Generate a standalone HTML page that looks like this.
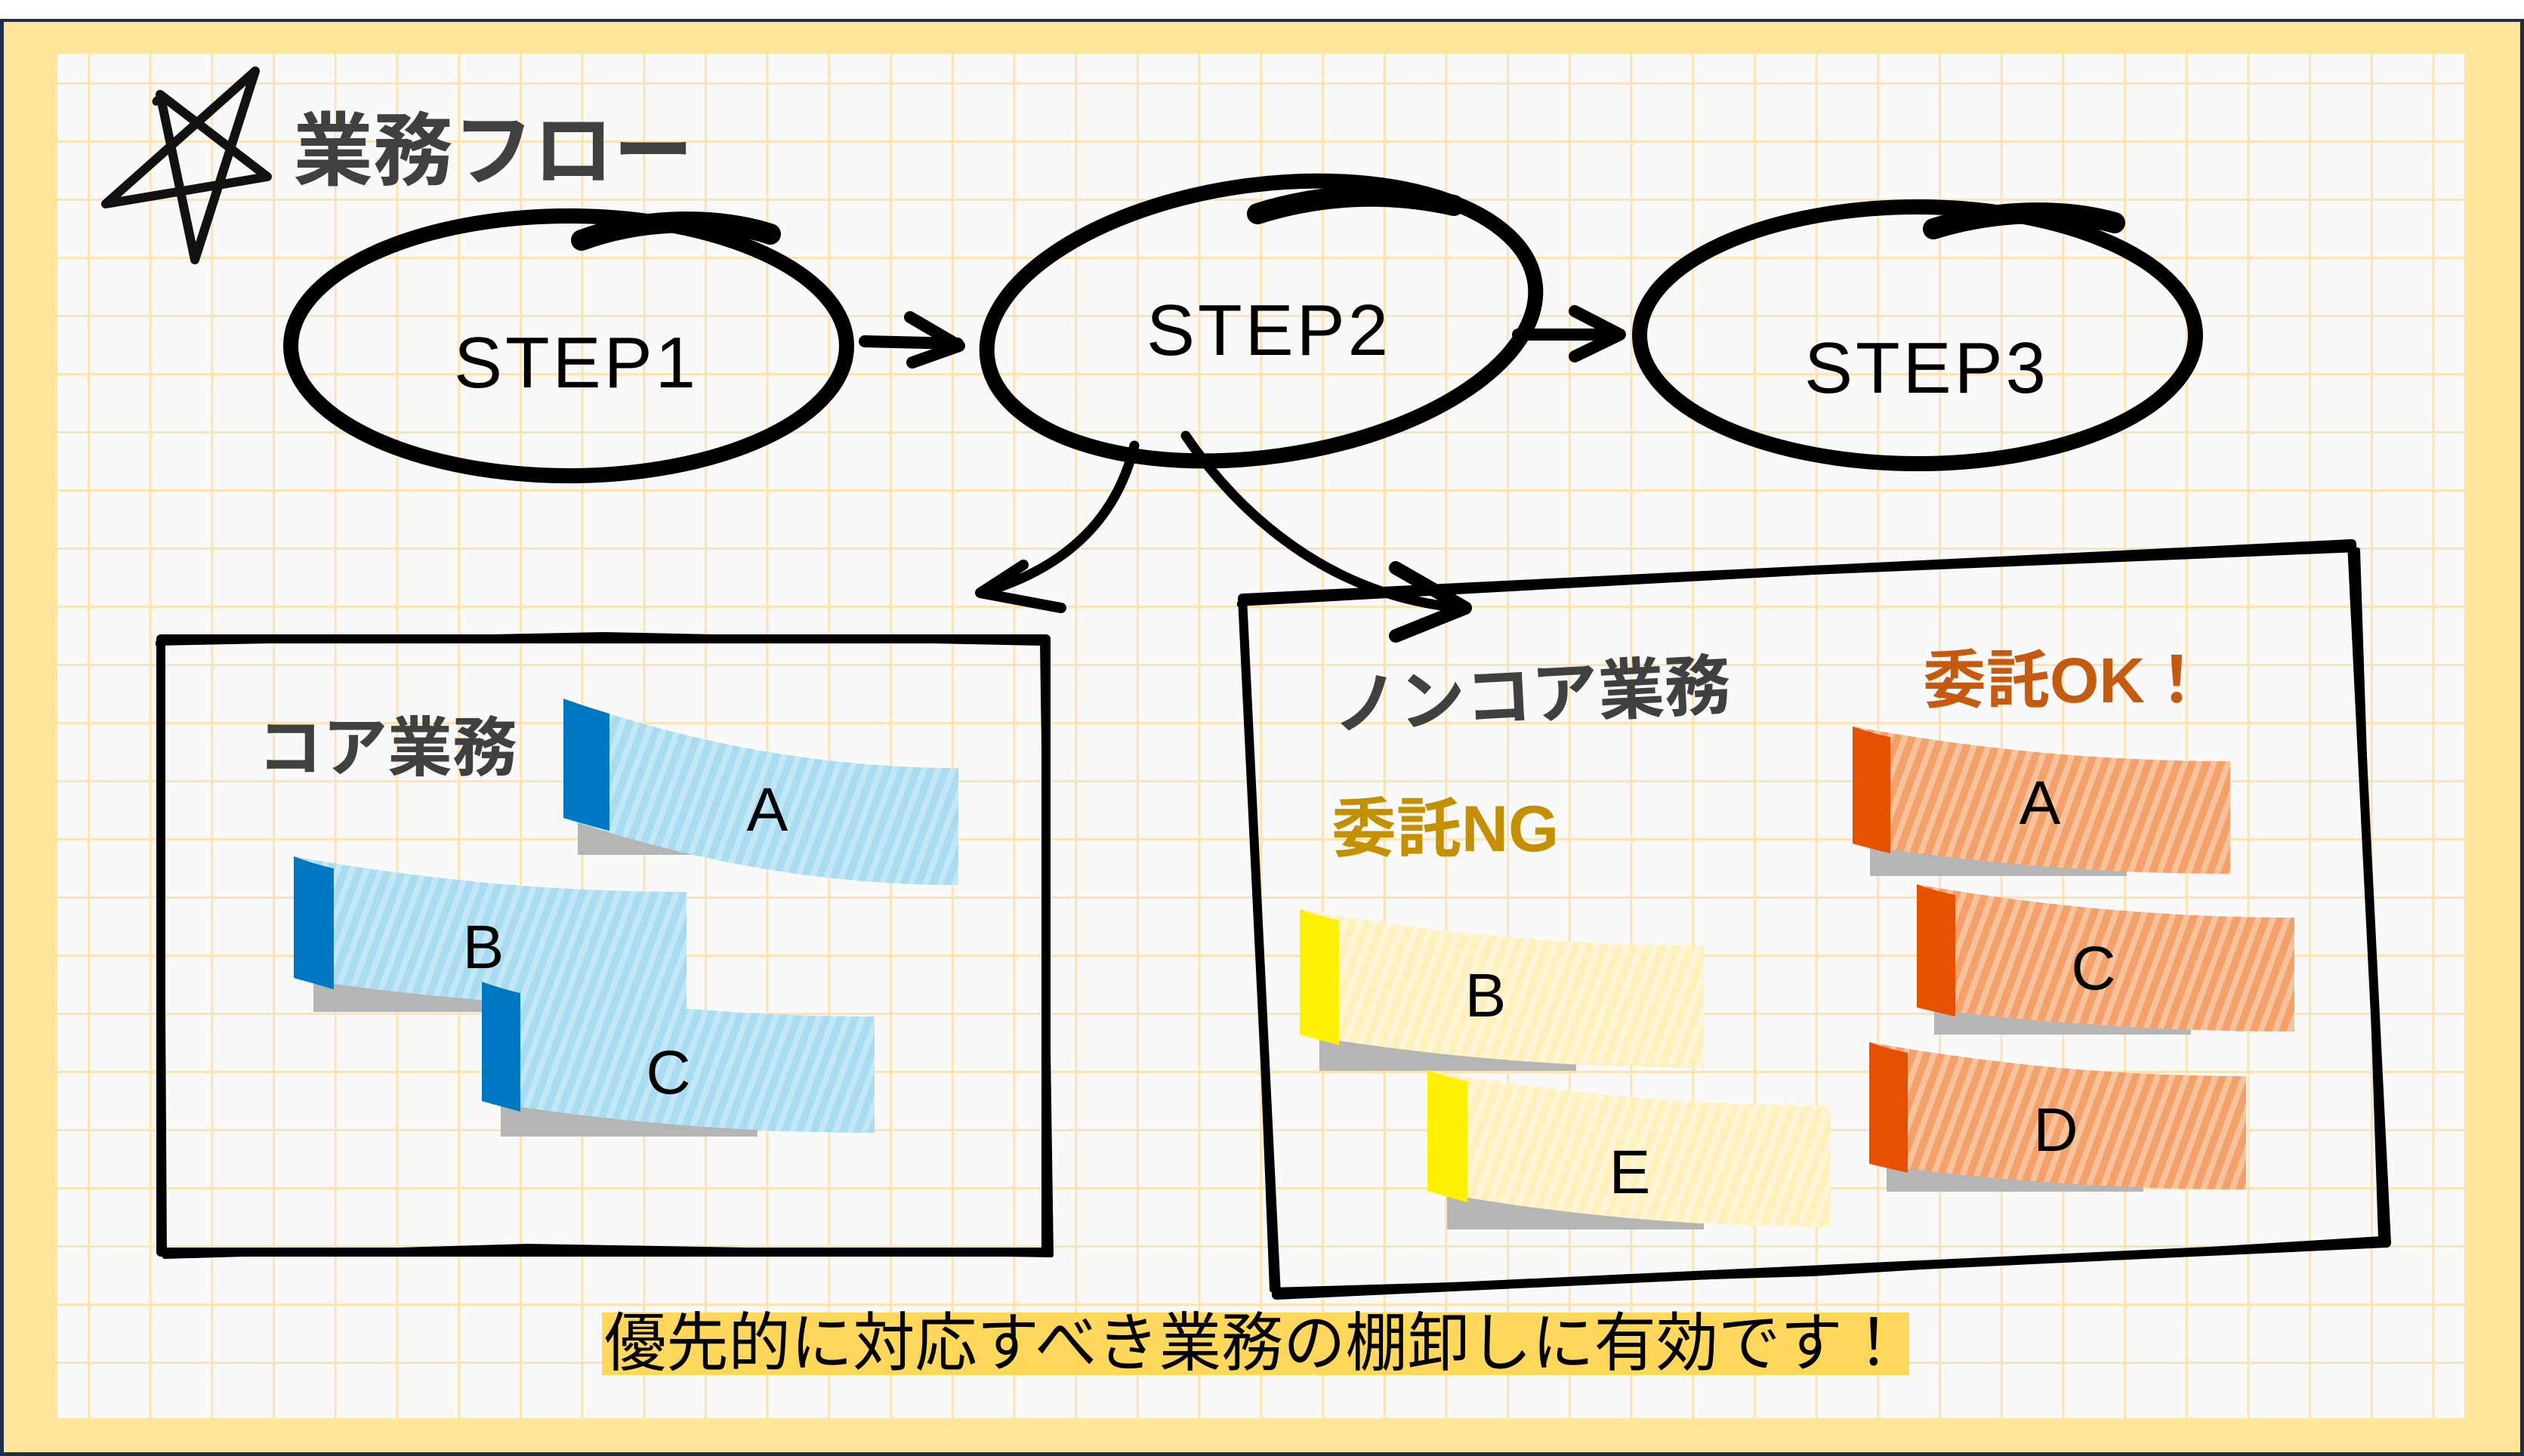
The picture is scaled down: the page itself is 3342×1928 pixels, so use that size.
<!DOCTYPE html>
<html><head><meta charset="utf-8">
<style>
html,body{margin:0;padding:0;background:#fff;}
svg{display:block;}
.t{font-family:"Liberation Sans","Noto Sans CJK JP",sans-serif;}
</style></head>
<body>
<svg width="3342" height="1928" viewBox="0 0 3342 1928" xmlns="http://www.w3.org/2000/svg">
<defs>
  <pattern id="grid" x="116" y="109" width="81.7" height="77" patternUnits="userSpaceOnUse">
    <rect x="0" y="0" width="81.7" height="77" fill="#f9f9f9"/>
    <rect x="-3" y="0" width="6" height="77" fill="#fde3b2"/>
    <rect x="0" y="-3" width="81.7" height="6" fill="#fde3b2"/>
  </pattern>
  <pattern id="sb" width="18" height="18" patternUnits="userSpaceOnUse" patternTransform="rotate(20)">
    <rect width="18" height="18" fill="#a9dcf0"/><rect width="8" height="18" fill="#c2e7f6"/>
  </pattern>
  <pattern id="sy" width="18" height="18" patternUnits="userSpaceOnUse" patternTransform="rotate(20)">
    <rect width="18" height="18" fill="#fff0bd"/><rect width="8" height="18" fill="#fff6d6"/>
  </pattern>
  <pattern id="so" width="18" height="18" patternUnits="userSpaceOnUse" patternTransform="rotate(20)">
    <rect width="18" height="18" fill="#f3a06a"/><rect width="8" height="18" fill="#f8c29a"/>
  </pattern>
</defs>

<rect x="0" y="0" width="3342" height="1928" fill="#fff"/>
<rect x="0" y="25" width="3342" height="1903" fill="#1f2d4a"/>
<rect x="5" y="29" width="3332" height="1894" fill="#ffe599"/>
<rect x="76" y="71" width="3187" height="1807" fill="url(#grid)"/>

<path d="M338,94 L258,344 L212,125 L354,234 L140,270 L338,94" fill="none" stroke="#111" stroke-width="12" stroke-linejoin="round" stroke-linecap="round"/>
<path d="M212,125 C205,150 200,120 222,136" fill="none" stroke="#111" stroke-width="9"/>

<text class="t" x="388" y="237" font-size="106" font-weight="700" fill="#404040">業務フロー</text>

<g fill="none" stroke="#000" stroke-linecap="round">
  <ellipse cx="753" cy="458" rx="368" ry="172" stroke-width="20"/>
  <path d="M770,318 C860,285 960,290 1020,310" stroke-width="28"/>
  <ellipse cx="1670" cy="425" rx="366" ry="180" stroke-width="20" transform="rotate(-8 1670 425)"/>
  <path d="M1665,283 C1760,253 1850,255 1925,272" stroke-width="28"/>
  <ellipse cx="2539" cy="444" rx="368" ry="170" stroke-width="20"/>
  <path d="M2560,303 C2650,275 2740,278 2800,295" stroke-width="28"/>
</g>
<text class="t" x="763" y="513" font-size="96" text-anchor="middle" fill="#000" letter-spacing="4">STEP1</text>
<text class="t" x="1680" y="470" font-size="96" text-anchor="middle" fill="#000" letter-spacing="4">STEP2</text>
<text class="t" x="2551" y="520" font-size="96" text-anchor="middle" fill="#000" letter-spacing="4">STEP3</text>

<g fill="none" stroke="#000" stroke-linecap="round" stroke-linejoin="round">
  <path d="M1145,452 L1268,455" stroke-width="16"/>
  <path d="M1205,420 L1270,458 L1208,480" stroke-width="16"/>
  <path d="M2010,443 L2140,443" stroke-width="16"/>
  <path d="M2085,412 L2145,443 L2085,472" stroke-width="16"/>
  <path d="M1502,590 C1480,680 1420,750 1300,785" stroke-width="13"/>
  <path d="M1355,748 L1298,785 L1405,805" stroke-width="14"/>
  <path d="M1570,577 C1640,680 1760,790 1935,805" stroke-width="13"/>
  <path d="M1848,752 L1940,805 L1848,842" stroke-width="18"/>
</g>

<g fill="none" stroke="#000" stroke-linejoin="round">
  <path d="M213,846 L1385,846 L1385,1658 L213,1658 Z" stroke-width="12"/>
  <path d="M206,852 L800,840 L1380,852 L1392,1662 L700,1650 L218,1664 L213,850" stroke-width="6"/>
</g>
<g fill="none" stroke="#000" stroke-linejoin="round">
  <path d="M1645,792 L3114,720 L3160,1646 L1690,1715 Z" stroke-width="12"/>
  <path d="M1638,800 L2400,758 L3122,728 L3152,1640 L2400,1687 L1684,1708 L1648,796" stroke-width="6"/>
</g>

<text class="t" x="341" y="1020" font-size="86" font-weight="700" fill="#404040">コア業務</text>
<text class="t" x="1766" y="965" font-size="88" font-weight="700" fill="#404040" transform="rotate(-3 1766 965)">ノンコア業務</text>
<text class="t" x="1763" y="1127" font-size="86" font-weight="700" fill="#c49000">委託NG</text>
<text class="t" x="2546" y="930" font-size="84" font-weight="700" fill="#c55a11">委託OK！</text>

<g>
  <rect x="765" y="1040" width="380" height="92" fill="#b5b5b5"/>
  <path d="M746,925 Q1007,1017 1269,1017 L1269,1172 Q1007,1172 746,1083 Z" fill="url(#sb)"/>
  <path d="M746,925 Q776,936 807,945 L807,1100 Q776,1092 746,1083 Z" fill="#0078c1"/>
  <rect x="415" y="1250" width="340" height="90" fill="#b5b5b5"/>
  <path d="M389,1134 Q649,1181 909,1181 L909,1335 Q649,1335 389,1295 Z" fill="url(#sb)"/>
  <path d="M389,1134 Q415,1144 442,1150 L442,1310 Q415,1302 389,1295 Z" fill="#0078c1"/>
  <rect x="663" y="1415" width="340" height="90" fill="#b5b5b5"/>
  <path d="M638,1300 Q898,1346 1158,1346 L1158,1500 Q898,1500 638,1458 Z" fill="url(#sb)"/>
  <path d="M638,1300 Q663,1309 689,1315 L689,1472 Q663,1465 638,1458 Z" fill="#0078c1"/>
  <rect x="1747" y="1330" width="340" height="88" fill="#b5b5b5"/>
  <path d="M1721,1204 Q1988,1252 2256,1252 L2256,1414 Q1988,1414 1721,1370 Z" fill="url(#sy)"/>
  <path d="M1721,1204 Q1747,1213 1773,1219 L1773,1384 Q1747,1377 1721,1370 Z" fill="#fff200"/>
  <rect x="1916" y="1540" width="340" height="88" fill="#b5b5b5"/>
  <path d="M1890,1417 Q2157,1464 2424,1464 L2424,1625 Q2157,1625 1890,1577 Z" fill="url(#sy)"/>
  <path d="M1890,1417 Q1916,1426 1943,1432 L1943,1592 Q1916,1585 1890,1577 Z" fill="#fff200"/>
  <rect x="2476" y="1080" width="340" height="80" fill="#b5b5b5"/>
  <path d="M2453,962 Q2703,1008 2953,1008 L2953,1157 Q2703,1157 2453,1117 Z" fill="url(#so)"/>
  <path d="M2453,962 Q2478,971 2503,976 L2503,1130 Q2478,1124 2453,1117 Z" fill="#e65100"/>
  <rect x="2561" y="1290" width="340" height="80" fill="#b5b5b5"/>
  <path d="M2538,1171 Q2788,1215 3038,1215 L3038,1366 Q2788,1366 2538,1334 Z" fill="url(#so)"/>
  <path d="M2538,1171 Q2563,1180 2589,1185 L2589,1346 Q2563,1340 2538,1334 Z" fill="#e65100"/>
  <rect x="2498" y="1500" width="340" height="78" fill="#b5b5b5"/>
  <path d="M2475,1380 Q2725,1425 2974,1425 L2974,1575 Q2725,1575 2475,1541 Z" fill="url(#so)"/>
  <path d="M2475,1380 Q2500,1389 2526,1394 L2526,1553 Q2500,1547 2475,1541 Z" fill="#e65100"/>
</g>
<g class="t" font-size="82" fill="#000" text-anchor="middle">
  <text x="1016" y="1100">A</text>
  <text x="640" y="1282">B</text>
  <text x="885" y="1448">C</text>
  <text x="1967" y="1346">B</text>
  <text x="2158" y="1580">E</text>
  <text x="2701" y="1091">A</text>
  <text x="2772" y="1310">C</text>
  <text x="2722" y="1524">D</text>
</g>

<rect x="797" y="1738" width="1731" height="83" fill="#ffd75a"/>
<text class="t" x="800" y="1808" font-size="85" fill="#000" textLength="1722" lengthAdjust="spacingAndGlyphs">優先的に対応すべき業務の棚卸しに有効です！</text>
</svg>
</body></html>
